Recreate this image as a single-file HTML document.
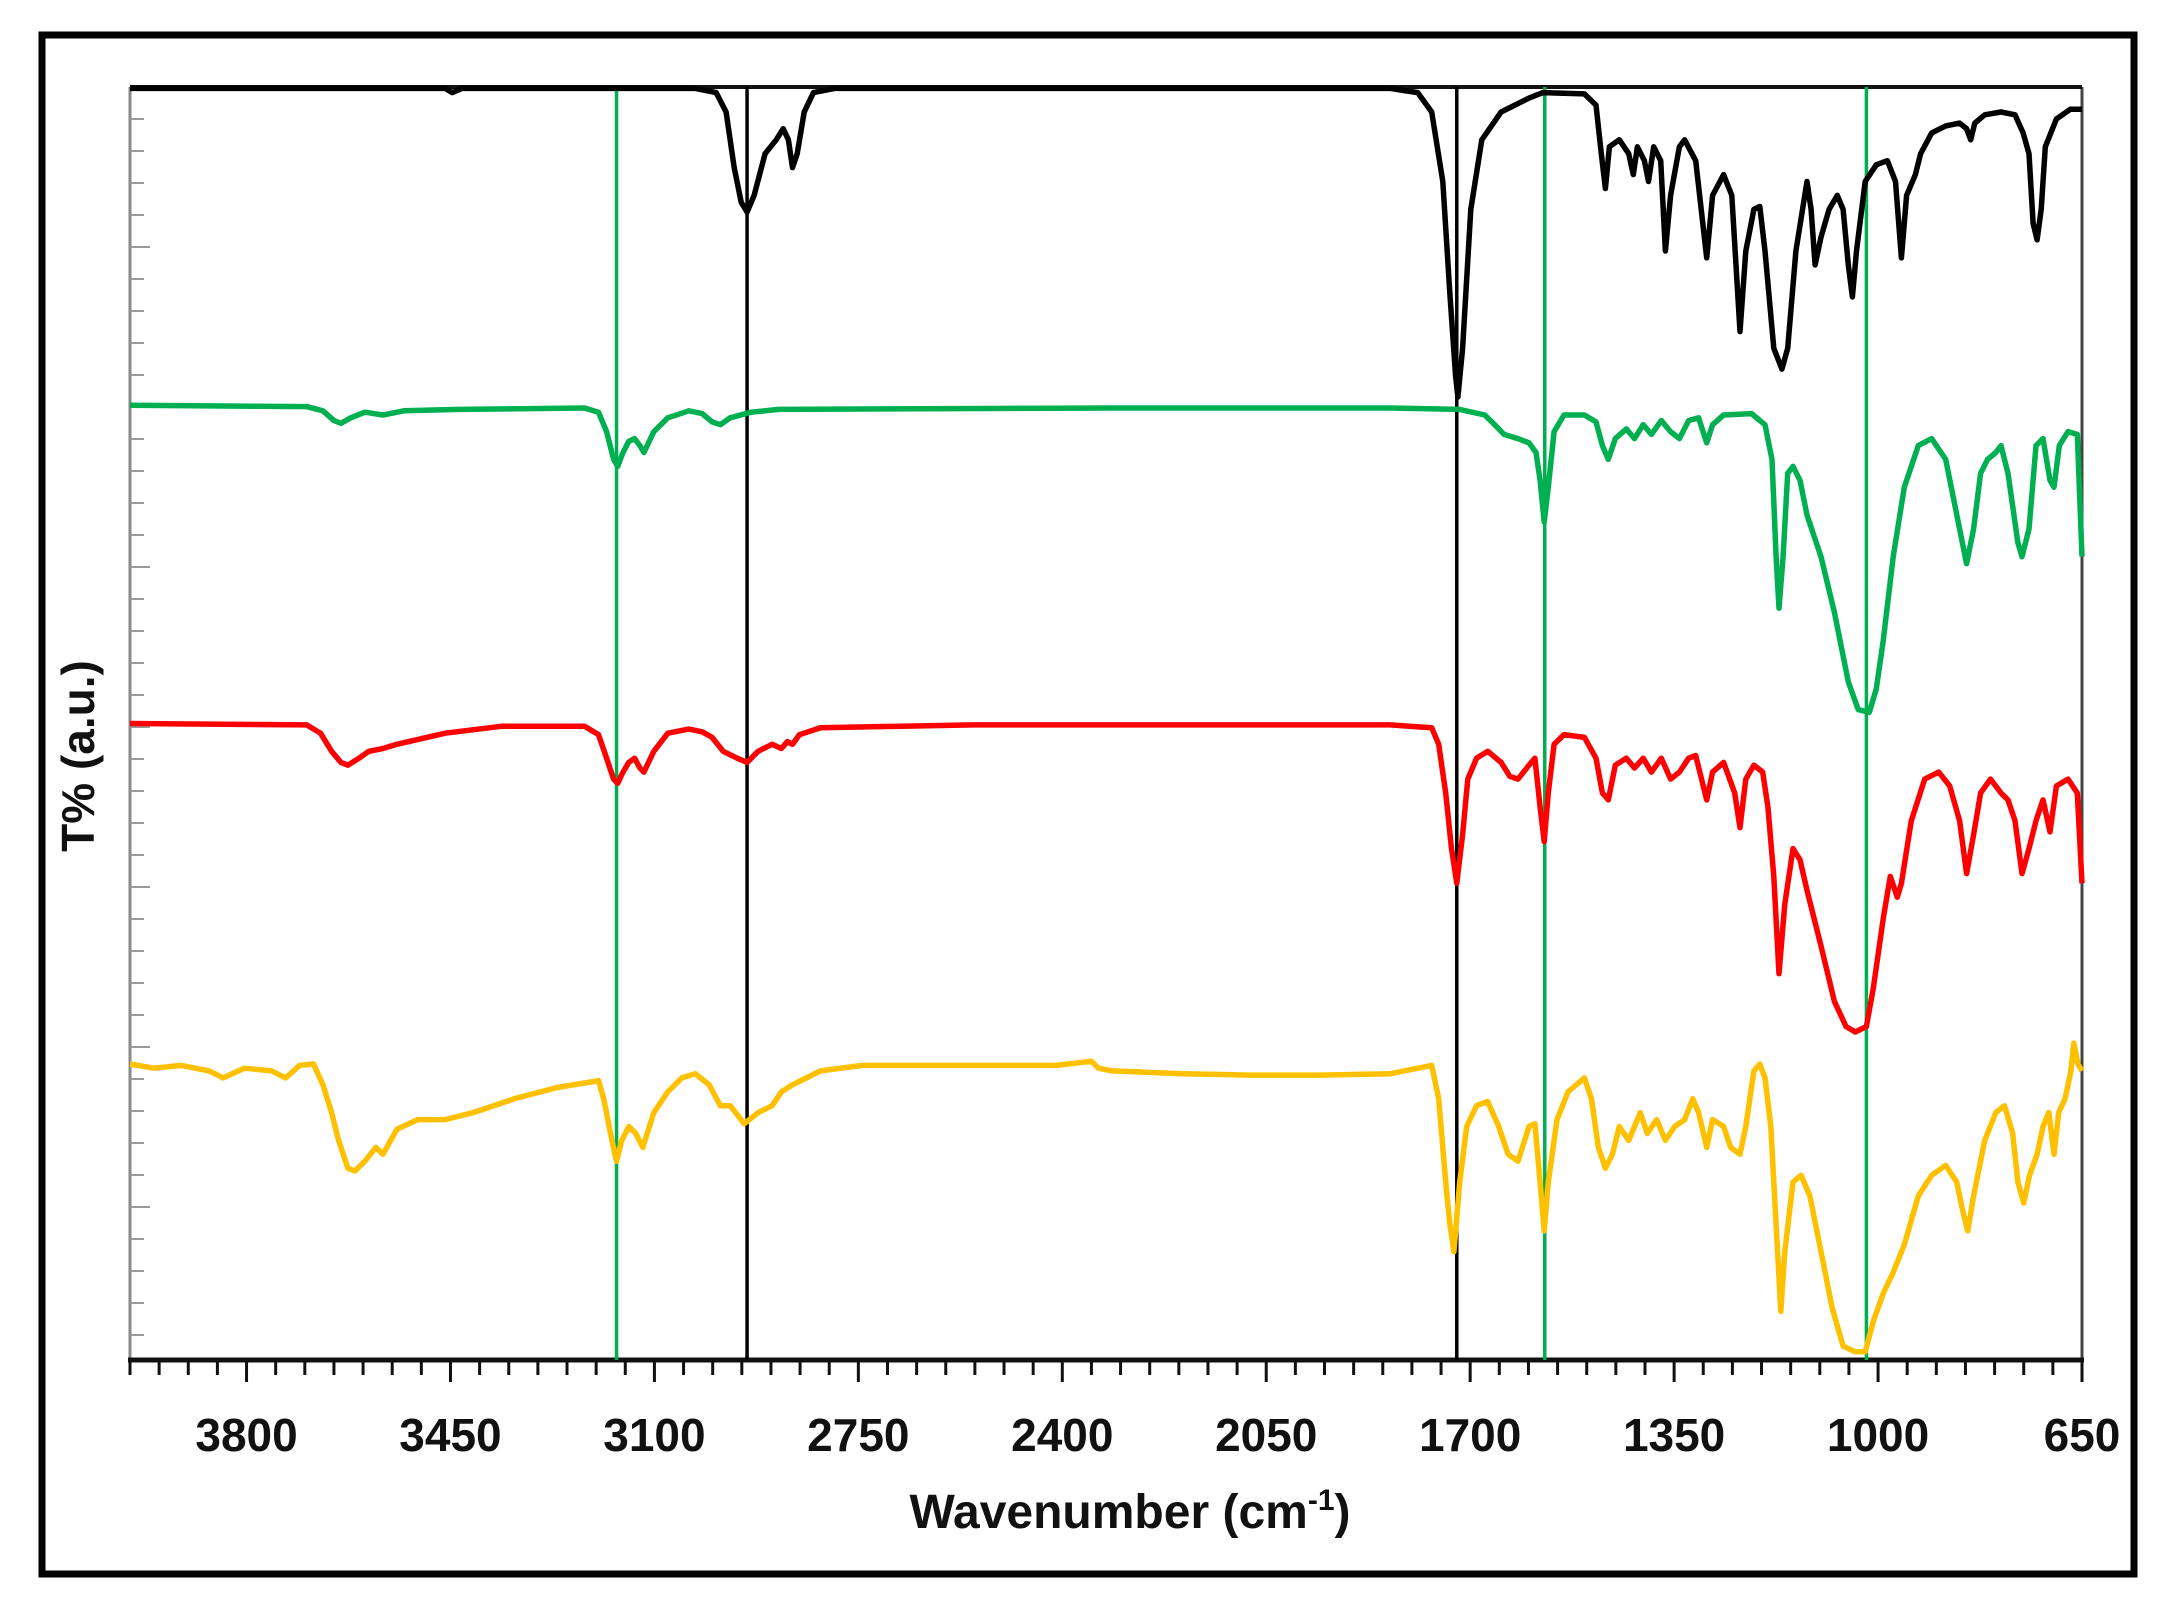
<!DOCTYPE html>
<html><head><meta charset="utf-8"><style>
html,body{margin:0;padding:0;background:#fff;}
svg{display:block;}
text{font-family:"Liberation Sans",sans-serif;font-weight:bold;fill:#111;}
</style></head><body>
<svg id="chart" width="2179" height="1608" viewBox="0 0 2179 1608" xmlns="http://www.w3.org/2000/svg">
<rect x="42" y="35" width="2092" height="1539" fill="#fff" stroke="#000" stroke-width="7"/>
<g id="axes"></g>
<g id="lines"></g>
<g id="series"></g>
<text x="1130" y="1528" font-size="48" text-anchor="middle">Wavenumber (cm<tspan font-size="30" dy="-18">-1</tspan><tspan dy="18">)</tspan></text>
<text transform="translate(94,756) rotate(-90)" font-size="46" text-anchor="middle" fill="#333">T% (a.u.)</text>
</svg>
<script>
const xTickLabels = [3800, 3450, 3100, 2750, 2400, 2050, 1700, 1350, 1000, 650];
const markerWavenumbers = [3165, 2941, 1723, 1572, 1020];
const markerColors = ["#00b050", "#000", "#000", "#00b050", "#00b050"];
const blackSeries = [[4000,915],[3459,915],[3447,912],[3430,915],[3030,915],[2994,912],[2977,898],[2963,858],[2951,833],[2941,826],[2929,838],[2910,868],[2891,878],[2879,886],[2870,878],[2863,858],[2855,868],[2843,898],[2827,912],[2791,915],[1837,915],[1790,912],[1766,898],[1747,848],[1735,768],[1725,708],[1721,693],[1713,728],[1699,828],[1680,878],[1647,898],[1599,908],[1575,912],[1504,911],[1484,903],[1475,868],[1468,843],[1461,873],[1444,878],[1428,868],[1420,853],[1413,873],[1401,863],[1394,848],[1385,873],[1373,863],[1365,798],[1356,838],[1341,873],[1332,878],[1313,863],[1294,793],[1284,838],[1265,853],[1251,838],[1237,740],[1227,798],[1213,828],[1203,830],[1194,798],[1179,728],[1165,713],[1155,728],[1141,798],[1122,848],[1115,828],[1108,788],[1098,808],[1084,828],[1070,838],[1060,828],[1051,788],[1044,765],[1037,798],[1022,848],[1003,860],[984,863],[970,848],[960,793],[951,838],[936,853],[927,868],[908,883],[884,888],[860,890],[848,886],[841,878],[834,890],[817,896],[789,898],[765,896],[751,883],[741,868],[734,818],[727,806],[720,828],[713,873],[694,893],[670,900],[650,900]];
const greenSeries = [[4000,687],[3697,686],[3669,683],[3650,676],[3638,674],[3621,678],[3597,682],[3566,680],[3530,683],[3435,684],[3220,685],[3196,682],[3182,668],[3170,648],[3163,643],[3154,653],[3144,661],[3134,663],[3125,658],[3118,653],[3101,668],[3077,678],[3041,683],[3018,681],[3001,675],[2987,673],[2970,678],[2934,682],[2887,684],[2314,685],[1837,685],[1718,684],[1675,680],[1658,673],[1642,666],[1618,663],[1599,660],[1587,653],[1580,633],[1573,603],[1566,628],[1556,668],[1539,680],[1504,680],[1484,675],[1473,658],[1463,648],[1451,663],[1432,670],[1418,663],[1403,673],[1389,666],[1372,676],[1356,668],[1341,663],[1325,676],[1308,678],[1294,660],[1284,673],[1265,680],[1217,681],[1194,673],[1182,648],[1175,578],[1170,541],[1163,578],[1155,638],[1146,643],[1134,633],[1122,608],[1098,578],[1075,538],[1051,488],[1034,468],[1015,466],[1003,483],[991,518],[974,578],[955,628],[931,658],[908,663],[884,648],[860,598],[848,573],[836,598],[824,638],[812,648],[798,653],[789,658],[777,638],[760,588],[753,578],[741,598],[729,658],[717,663],[705,633],[698,628],[689,658],[674,668],[658,666],[650,578]];
const redSeries = [[4000,458],[3697,457],[3673,451],[3654,438],[3638,430],[3626,428],[3607,433],[3590,438],[3566,440],[3542,443],[3459,451],[3363,456],[3220,456],[3196,450],[3182,433],[3170,418],[3163,415],[3154,423],[3144,430],[3134,433],[3125,426],[3118,423],[3101,438],[3077,451],[3041,454],[3018,452],[3001,448],[2982,438],[2958,433],[2941,430],[2922,438],[2898,443],[2882,440],[2872,445],[2863,443],[2851,450],[2815,455],[2553,457],[1837,457],[1766,455],[1754,443],[1742,408],[1732,368],[1723,343],[1713,378],[1704,418],[1689,433],[1670,438],[1647,430],[1632,420],[1618,418],[1599,428],[1589,433],[1580,398],[1573,373],[1566,408],[1556,443],[1539,450],[1504,448],[1484,433],[1473,408],[1463,403],[1451,428],[1432,433],[1418,426],[1403,433],[1389,423],[1372,433],[1356,418],[1341,423],[1325,433],[1313,435],[1294,403],[1284,423],[1265,430],[1246,408],[1237,383],[1227,418],[1213,428],[1198,423],[1189,398],[1179,348],[1170,278],[1160,328],[1146,368],[1134,360],[1122,338],[1098,298],[1075,258],[1055,240],[1039,236],[1020,240],[1008,268],[991,318],[979,348],[967,333],[960,343],[943,388],[920,418],[896,423],[877,413],[860,388],[848,350],[836,378],[824,408],[807,418],[789,408],[777,403],[765,388],[753,350],[741,368],[729,388],[717,403],[705,380],[694,413],[674,418],[658,408],[650,343]];
const yellowSeries = [[4000,213],[3959,210],[3912,212],[3864,208],[3840,203],[3804,210],[3757,208],[3733,203],[3709,212],[3685,213],[3669,198],[3654,178],[3642,158],[3626,138],[3614,136],[3597,143],[3578,153],[3566,148],[3542,166],[3506,173],[3459,173],[3411,178],[3340,188],[3268,196],[3196,201],[3187,188],[3173,158],[3165,143],[3156,158],[3144,168],[3132,163],[3120,153],[3101,178],[3077,193],[3053,203],[3030,206],[3006,198],[2987,183],[2970,183],[2946,170],[2922,178],[2898,183],[2882,193],[2863,198],[2815,208],[2743,212],[2553,212],[2410,212],[2350,215],[2338,210],[2314,208],[2195,206],[2076,205],[1957,205],[1837,206],[1766,212],[1754,188],[1742,128],[1735,98],[1728,78],[1718,128],[1706,168],[1689,183],[1670,186],[1651,168],[1635,148],[1618,143],[1599,168],[1589,170],[1580,128],[1573,93],[1566,128],[1551,173],[1532,193],[1504,203],[1492,188],[1480,153],[1468,138],[1456,148],[1444,168],[1428,158],[1408,178],[1396,163],[1380,173],[1365,158],[1349,168],[1332,173],[1318,188],[1308,178],[1294,153],[1284,173],[1265,168],[1253,153],[1237,148],[1227,168],[1213,208],[1203,213],[1194,203],[1184,168],[1175,98],[1167,35],[1160,78],[1146,128],[1132,133],[1117,118],[1098,78],[1079,38],[1060,10],[1039,6],[1022,6],[1008,28],[991,48],[974,63],[955,83],[931,118],[908,133],[884,140],[865,128],[855,108],[846,93],[836,118],[817,158],[798,178],[783,183],[769,163],[760,128],[750,113],[740,133],[727,148],[717,168],[707,178],[698,148],[690,178],[679,188],[669,208],[664,228],[657,213],[650,208]];

const NS = "http://www.w3.org/2000/svg";
const X0 = 130, X1 = 2082, Y0 = 87, Y1 = 1360;
const W_MAX = 4000, W_MIN = 650, T_MAX = 916;
function xScale(w){ return X0 + (W_MAX - w) / (W_MAX - W_MIN) * (X1 - X0); }
function yScale(t){ return Y1 - t / T_MAX * (Y1 - Y0); }
function mk(tag, attrs, parent){ const e = document.createElementNS(NS, tag); for (const k in attrs) e.setAttribute(k, attrs[k]); parent.appendChild(e); return e; }

const axes = document.getElementById('axes');
const la = mk('line', {x1:X0, y1:Y0, x2:X0, y2:Y1, stroke:'#888', 'stroke-width':3}, axes);


for (let y = Y0 + 32; y < Y1 - 10; y += 32) {
  const t = mk('line', {x1:X0, y1:y, x2:X0 + (((y - Y0) / 32) % 5 === 0 ? 20 : 14), y2:y, stroke:'#999', 'stroke-width':2}, axes);
  
  
}
const ra = mk('line', {x1:X1, y1:Y0, x2:X1, y2:Y1, stroke:'#444', 'stroke-width':3}, axes);


const ta = mk('line', {x1:X0, y1:Y0, x2:X1, y2:Y0, stroke:'#111', 'stroke-width':4}, axes);


const xa = mk('line', {x1:X0 - 2, y1:Y1, x2:X1 + 2, y2:Y1, stroke:'#111', 'stroke-width':5}, axes);


for (let w = W_MAX; w >= W_MIN; w -= 50) {
  const major = xTickLabels.indexOf(w) >= 0;
  const t = mk('line', {x1:xScale(w), y1:Y1, x2:xScale(w), y2:Y1 + (major ? 22 : 15), stroke:'#111', 'stroke-width':3}, axes);
  
  
}
xTickLabels.forEach(v => {
  const t = mk('text', {x:xScale(v), y:1451, 'font-size':46, 'text-anchor':'middle'}, axes);
  t.textContent = v;
  
  
});

const lines = document.getElementById('lines');
markerWavenumbers.forEach((w, i) => {
  const l = mk('line', {x1:xScale(w), y1:Y0, x2:xScale(w), y2:Y1, stroke:markerColors[i], 'stroke-width':3.5}, lines);
  
  
});

const sg = document.getElementById('series');
[[blackSeries,'#000','black-spectrum'],[greenSeries,'#00b050','green-spectrum'],[redSeries,'#ff0000','red-spectrum'],[yellowSeries,'#ffc000','yellow-spectrum']].forEach(s => {
  const d = s[0].map((p, i) => (i ? 'L' : 'M') + xScale(p[0]).toFixed(1) + ' ' + yScale(p[1]).toFixed(1)).join(' ');
  const p = mk('path', {d:d, fill:'none', stroke:s[1], 'stroke-width':5.5, 'stroke-linejoin':'round'}, sg);
  
  
});
</script>
</body></html>
